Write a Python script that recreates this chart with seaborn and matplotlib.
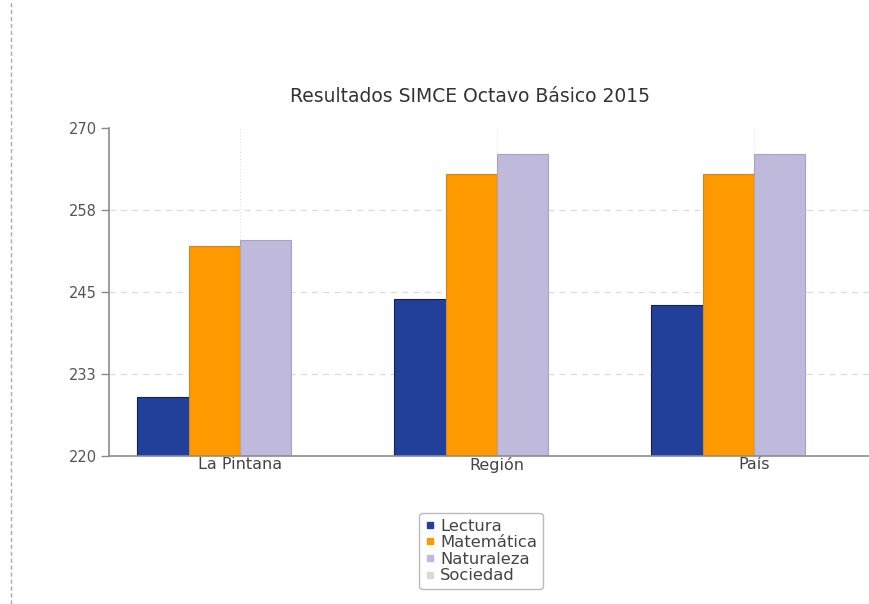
import matplotlib
matplotlib.use("Agg")
import matplotlib.pyplot as plt
from matplotlib.lines import Line2D
import seaborn as sns
import pandas as pd
import numpy as np

categories = ["La Pintana", "Región", "País"]
series = ["Lectura", "Matemática", "Naturaleza", "Sociedad"]
lectura = [229, 244, 243]
matematica = [252, 263, 263]
naturaleza = [253, 266, 266]
sociedad = [np.nan, np.nan, np.nan]
yticks = [220, 232.5, 245, 257.5, 270]
ytick_labels = ["220", "233", "245", "258", "270"]
colors = ["#22409A", "#FF9900", "#BFB9DB", "#DADADA"]
edges = ["#0C1F6B", "#E08600", "#A9A2C8", "#CCCCCC"]

rows = []
for s, vals in zip(series, [lectura, matematica, naturaleza, sociedad]):
    for c, v in zip(categories, vals):
        rows.append({"cat": c, "serie": s, "valor": v})
df = pd.DataFrame(rows)

sns.set_theme(style="white")
plt.rcParams['font.family'] = ['DejaVu Sans']

fig = plt.figure(figsize=(8.69, 6.04), dpi=100)
ax = fig.add_axes([109/869, (604-456)/604, (880-109)/869, (456-128)/604])

sns.barplot(data=df, x="cat", y="valor", hue="serie", hue_order=series,
            order=categories, palette=colors, width=0.8, dodge=True,
            legend=False, ax=ax, errorbar=None, saturation=1)

nb = len(categories)
for i, patch in enumerate(ax.patches):
    si = i // nb
    if si < len(edges):
        patch.set_edgecolor(edges[si])
        patch.set_linewidth(0.8)

ax.set_ylim(220, 270)
ax.set_xlim(-0.51, 2.49)
ax.set_yticks(yticks)
ax.set_yticklabels(ytick_labels)
ax.set_xlabel("")
ax.set_ylabel("")

for y in yticks[1:4]:
    ax.axhline(y, color="#DDDDDD", lw=0.9, ls=(0, (5, 4)), zorder=0)
for x in range(len(categories)):
    ax.axvline(x, color="#E2E2E2", lw=0.8, ls=(0, (1, 2)), zorder=0)

for side in ["top", "right"]:
    ax.spines[side].set_visible(False)
for side in ["left", "bottom"]:
    ax.spines[side].set_color("#8C8C8C")
    ax.spines[side].set_linewidth(1.2)

ax.tick_params(axis="y", direction="out", length=6, width=1, color="#8C8C8C",
               labelsize=10.5, labelcolor="#555555", pad=3, left=True)
ax.tick_params(axis="x", length=0, labelsize=11.5, labelcolor="#444444", pad=1)

fig.text(470/869, 1 - 97/604, "Resultados SIMCE Octavo Básico 2015",
         ha="center", va="center", fontsize=13.5, color="#333333")

handles = [Line2D([0], [0], marker="s", color="none", markerfacecolor=c,
                  markeredgecolor=c, markersize=4) for c in colors]
leg = fig.legend(handles, series, loc="center", bbox_to_anchor=(481/869, 1 - 551/604),
                 fontsize=11.8, labelspacing=0.1, handlelength=0.6, handletextpad=0.3,
                 borderpad=0.35, frameon=True, fancybox=True, shadow=False,
                 labelcolor="#444444")
leg.get_frame().set_edgecolor("#AAAAAA")
leg.get_frame().set_linewidth(1.0)

fig.add_artist(Line2D([11/869, 11/869], [0, 1], transform=fig.transFigure,
                      color="#AAAAAA", lw=1, ls=(0, (3, 2))))

fig.savefig("out.png", dpi=100)
